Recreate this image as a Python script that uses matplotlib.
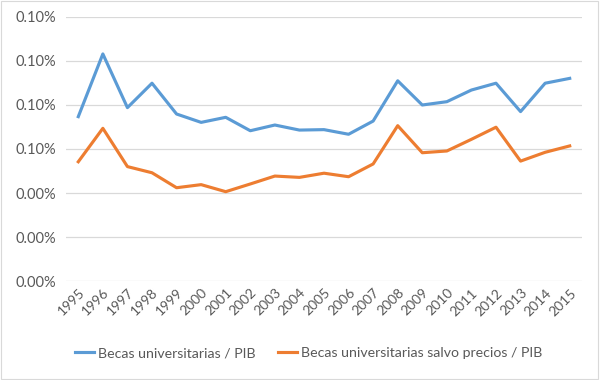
import matplotlib
matplotlib.use("Agg")
import matplotlib.pyplot as plt
from matplotlib.ticker import FuncFormatter
from matplotlib.patches import Rectangle

years = [str(y) for y in range(1995, 2016)]
becas = [0.0747, 0.1032, 0.0788, 0.0899, 0.0759, 0.0721, 0.0744, 0.0683, 0.0709, 0.0686,
         0.0688, 0.0667, 0.0727, 0.0910, 0.0800, 0.0815, 0.0868, 0.0899, 0.0770, 0.0899, 0.0921]
becas_sp = [0.0542, 0.0694, 0.0520, 0.0492, 0.0424, 0.0438, 0.0406, 0.0441, 0.0477, 0.0471,
            0.0490, 0.0474, 0.0532, 0.0706, 0.0583, 0.0591, 0.0644, 0.0699, 0.0545, 0.0585, 0.0614]
yticks = [0.00, 0.02, 0.04, 0.06, 0.08, 0.10, 0.12]
series_names = ["Becas universitarias / PIB", "Becas universitarias salvo precios / PIB"]

plt.rcParams['font.family'] = ['Lato', 'DejaVu Sans']
fig = plt.figure(figsize=(6, 3.8), dpi=100)
ax = fig.add_axes([0.11, 0.2605, 0.86, 0.6948])

x = list(range(len(years)))
ax.plot(x, becas, color='#5B9BD5', lw=2.25, label=series_names[0], solid_joinstyle='round')
ax.plot(x, becas_sp, color='#ED7D31', lw=2.25, label=series_names[1], solid_joinstyle='round')

ax.set_xlim(-0.5, len(years) - 0.5)
ax.set_ylim(0, 0.12)
ax.set_yticks(yticks)
ax.yaxis.set_major_formatter(FuncFormatter(lambda v, p: f"{round(v, 1):.2f}%"))
ax.set_xticks(x)
ax.set_xticklabels(years, rotation=45, ha='right', va='top', rotation_mode='anchor')
ax.grid(axis='y', color='#D9D9D9', lw=0.9)
ax.set_axisbelow(True)
for s in ax.spines.values():
    s.set_visible(False)
ax.tick_params(axis='y', length=0, labelsize=10.5, colors='#595959', pad=7)
ax.tick_params(axis='x', length=0, labelsize=10, colors='#595959', pad=4)

fig.legend(loc='center', bbox_to_anchor=(0.515, 0.071), ncol=2, frameon=False,
           fontsize=10.2, labelcolor='#595959', handlelength=1.3, handletextpad=0.3,
           columnspacing=1.6)

fig.patches.append(Rectangle((0.002, 0.003), 0.995, 0.994, transform=fig.transFigure,
                             fill=False, edgecolor='#D9D9D9', lw=0.8))
fig.savefig("out.png", dpi=100)
